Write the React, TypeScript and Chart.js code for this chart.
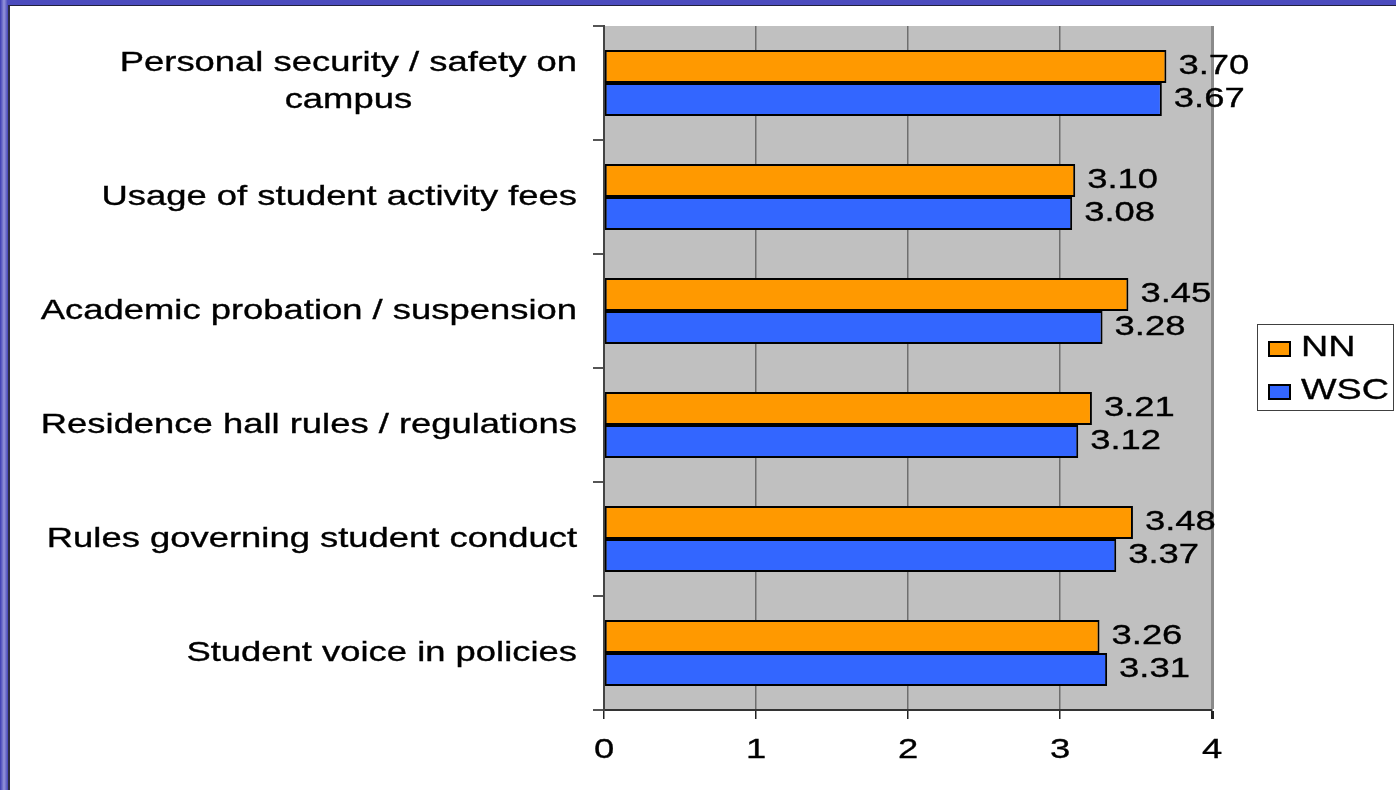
import React, { useEffect, useRef } from "react";
import { Chart, registerables } from "chart.js";

Chart.register(...registerables);

const categories: (string | string[])[] = [
  ["Personal security / safety on", "campus"],
  "Usage of student activity fees",
  "Academic probation / suspension",
  "Residence hall rules / regulations",
  "Rules governing student conduct",
  "Student voice in policies",
];
const seriesNames = ["NN", "WSC"];
const nnValues = [3.7, 3.1, 3.45, 3.21, 3.48, 3.26];
const wscValues = [3.67, 3.08, 3.28, 3.12, 3.37, 3.31];
const seriesColors = ["#FF9900", "#3366FF"];
const xMin = 0;
const xMax = 4;
const xStep = 1;

const FONT = "'Liberation Sans', Arial, sans-serif";
const SX = 1.3;
const FS = 28;

function stretchedText(
  ctx: CanvasRenderingContext2D,
  text: string,
  x: number,
  y: number,
  align: CanvasTextAlign,
  size: number
) {
  ctx.save();
  ctx.font = `${size}px ${FONT}`;
  ctx.fillStyle = "#000";
  ctx.strokeStyle = "#000";
  ctx.lineWidth = 0.35;
  ctx.textBaseline = "alphabetic";
  ctx.translate(x, y);
  ctx.scale(SX, 1);
  ctx.textAlign = align;
  ctx.fillText(text, 0, 0);
  ctx.strokeText(text, 0, 0);
  ctx.restore();
}

function textWidth(ctx: CanvasRenderingContext2D, text: string, size: number) {
  ctx.save();
  ctx.font = `${size}px ${FONT}`;
  const w = ctx.measureText(text).width * SX;
  ctx.restore();
  return w;
}

const plotBg = {
  id: "plotBg",
  beforeDraw(chart: any) {
    const { ctx, chartArea } = chart;
    ctx.save();
    ctx.fillStyle = "#C0C0C0";
    ctx.fillRect(chartArea.left, chartArea.top, chartArea.right - chartArea.left, chartArea.bottom - chartArea.top);
    ctx.restore();
  },
};

const textPlugin = {
  id: "textPlugin",
  afterDraw(chart: any) {
    const { ctx } = chart;
    const yScale = chart.scales.y;
    const xScale = chart.scales.x;
    // category labels
    categories.forEach((lab, i) => {
      const cy = yScale.getPixelForValue(i);
      const lines = Array.isArray(lab) ? lab : [lab];
      const right = 577;
      const lh = 37;
      const widths = lines.map((l) => textWidth(ctx, l, FS));
      const maxW = Math.max(...widths);
      const n = lines.length;
      lines.forEach((l, k) => {
        const base = cy + 8 + (k - (n - 1) / 2) * lh - (n > 1 ? 2 : 0);
        if (n > 1) {
          stretchedText(ctx, l, right - maxW / 2, base, "center", FS);
        } else {
          stretchedText(ctx, l, right, base, "right", FS);
        }
      });
    });
    // x tick labels
    for (let v = xMin; v <= xMax; v += xStep) {
      stretchedText(ctx, String(v), xScale.getPixelForValue(v), 758, "center", FS);
    }
    // value labels
    chart.data.datasets.forEach((ds: any, di: number) => {
      const meta = chart.getDatasetMeta(di);
      meta.data.forEach((bar: any, i: number) => {
        const val = ds.data[i] as number;
        stretchedText(ctx, val.toFixed(2), bar.x + 12, bar.y + 7.5, "left", FS);
      });
    });
    // legend
    ctx.save();
    ctx.strokeStyle = "#404040";
    ctx.lineWidth = 1;
    ctx.strokeRect(1257.5, 324.5, 136, 86);
    chart.data.datasets.forEach((ds: any, di: number) => {
      const top = 342 + di * 43;
      ctx.fillStyle = ds.backgroundColor;
      ctx.fillRect(1269, top, 21, 14);
      ctx.strokeStyle = "#000";
      ctx.lineWidth = 2;
      ctx.strokeRect(1269, top, 21, 14);
      stretchedText(ctx, ds.label, 1301, top + 14, "left", 29);
    });
    ctx.restore();
  },
};

export default function App() {
  const ref = useRef<HTMLCanvasElement>(null);

  useEffect(() => {
    document.body.style.margin = "0";
    const canvas = ref.current!;
    const chart = new Chart(canvas, {
      type: "bar",
      data: {
        labels: categories as any,
        datasets: [
          {
            label: seriesNames[0],
            data: nnValues,
            backgroundColor: seriesColors[0],
            borderColor: "#000",
            borderWidth: 2,
            borderSkipped: false,
          },
          {
            label: seriesNames[1],
            data: wscValues,
            backgroundColor: seriesColors[1],
            borderColor: "#000",
            borderWidth: 2,
            borderSkipped: false,
          },
        ],
      },
      options: {
        indexAxis: "y",
        responsive: false,
        animation: false,
        devicePixelRatio: 1,
        datasets: { bar: { categoryPercentage: 0.58, barPercentage: 1 } },
        layout: { padding: { left: 0, top: 26, right: 184, bottom: 0 } },
        plugins: { legend: { display: false }, tooltip: { enabled: false } },
        scales: {
          x: {
            type: "linear",
            min: xMin,
            max: xMax,
            ticks: { stepSize: xStep, display: false },
            grid: {
              color: (c: any) => (c.tick && c.tick.value === xMax ? "#8A8A8A" : "#6E6E6E"),
              lineWidth: (c: any) => (c.tick && c.tick.value === xMax ? 3 : 1.5),
              tickColor: "#222",
              tickLength: 9,
              drawTicks: true,
            },
            border: { display: true, color: "#333", width: 2 },
            afterFit: (s: any) => {
              s.height = 80;
            },
          },
          y: {
            type: "category",
            offset: true,
            ticks: { display: false },
            grid: {
              offset: true,
              drawOnChartArea: false,
              drawTicks: true,
              tickLength: 11,
              tickColor: "#555",
              lineWidth: 2,
            },
            border: { display: true, color: "#444", width: 2 },
            afterFit: (s: any) => {
              s.width = 604;
            },
          },
        },
      },
      plugins: [plotBg, textPlugin],
    });
    return () => chart.destroy();
  }, []);

  return (
    <div style={{ position: "relative", width: 1396, height: 790, overflow: "hidden", background: "linear-gradient(to bottom, #4c4cbe, #5a5ac6)" }}>
      <div
        style={{
          position: "absolute",
          left: 0,
          top: 0,
          width: 8,
          height: 790,
          background: "linear-gradient(to right, #3a3ab2, #9494da 50%, #4444b8)",
        }}
      />
      <div
        style={{
          position: "absolute",
          left: 8,
          top: 5,
          right: 0,
          bottom: 0,
          background: "#fff",
          borderLeft: "2px solid #2c2c44",
          borderTop: "1px solid #20203c",
        }}
      />
      <canvas ref={ref} width={1396} height={790} style={{ position: "absolute", left: 0, top: 0 }} />
    </div>
  );
}
